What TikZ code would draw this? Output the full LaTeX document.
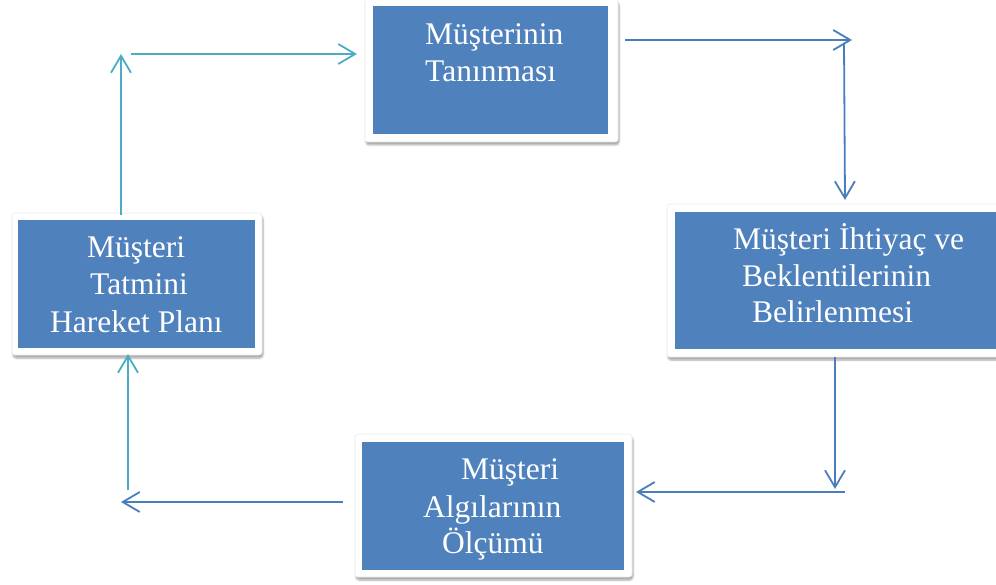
\documentclass[tikz,border=0pt]{standalone}
\usepackage{fontspec}
\setmainfont{Liberation Serif}
\usetikzlibrary{arrows.meta,shadows.blur}
\definecolor{boxblue}{HTML}{4F81BD}
\definecolor{lineblue}{HTML}{4A7EBB}
\definecolor{linecyan}{HTML}{4BACC6}
\tikzset{
  frame/.style={rectangle, fill=white, draw=black!8, line width=0.6pt, rounded corners=3pt,
    inner sep=0pt, outer sep=0pt,
    blur shadow={shadow xshift=1pt, shadow yshift=-3pt, shadow blur steps=6, shadow opacity=35}},
  panel/.style={rectangle, fill=boxblue, inner sep=0pt, outer sep=0pt},
  boxtext/.style={text=white, font=\fontsize{31.5}{37}\selectfont, anchor=base west, inner sep=0pt},
  flow/.style={line width=1.8pt, -{Straight Barb[length=17pt,width=20pt,line width=1.8pt]}},
}
\begin{document}
\begin{tikzpicture}[x=1pt,y=-1pt]
\useasboundingbox (0,0) rectangle (996,585);
\clip (0,0) rectangle (996,585);

% white frames with soft shadows
\node[frame, minimum width=253pt, minimum height=143pt] (f1) at (491.5,70.5) {};
\node[frame, minimum width=339pt, minimum height=153pt] (f2) at (836.5,280.5) {};
\node[frame, minimum width=250pt, minimum height=142pt] (f3) at (137,284) {};
\node[frame, minimum width=277pt, minimum height=143pt] (f4) at (493.5,505.5) {};

% blue panels
\node[panel, minimum width=235pt, minimum height=128pt] (tanima) at (490.5,70) {};
\node[panel, minimum width=323pt, minimum height=137pt] (ihtiyac) at (836.5,280.5) {};
\node[panel, minimum width=237pt, minimum height=128pt] (tatmin) at (136.5,284) {};
\node[panel, minimum width=262pt, minimum height=128pt] (olcum) at (493,506) {};

% texts
\node[boxtext] (t1a) at (425,45) {Müşterinin};
\node[boxtext] (t1b) at (425,82) {Tanınması};
\node[boxtext] (t2a) at (733,250) {Müşteri İhtiyaç ve};
\node[boxtext] (t2b) at (742,287) {Beklentilerinin};
\node[boxtext] (t2c) at (752,323) {Belirlenmesi};
\node[boxtext] (t3a) at (87,258) {Müşteri};
\node[boxtext] (t3b) at (90,295) {Tatmini};
\node[boxtext] (t3c) at (50,333) {Hareket Planı};
\node[boxtext] (t4a) at (461,479) {Müşteri};
\node[boxtext] (t4b) at (423,517) {Algılarının};
\node[boxtext] (t4c) at (442,553) {Ölçümü};

% connector end points
\coordinate (a1s) at (625,40);
\coordinate (a1e) at (852,40);
\coordinate (a2s) at (844,43);
\coordinate (a2e) at (845,200);
\coordinate (a3s) at (835,357);
\coordinate (a3e) at (835,489);
\coordinate (a4s) at (845,492);
\coordinate (a4e) at (636,492);
\coordinate (a5s) at (343,502);
\coordinate (a5e) at (121,502);
\coordinate (a6s) at (128,490);
\coordinate (a6e) at (128,354);
\coordinate (a7s) at (121,215);
\coordinate (a7e) at (121,54);
\coordinate (a8s) at (131,54);
\coordinate (a8e) at (357,54);

% connectors
\draw[flow, lineblue] (a1s) -- (a1e);
\draw[flow, lineblue] (a2s) -- (a2e);
\draw[flow, lineblue] (a3s) -- (a3e);
\draw[flow, lineblue] (a4s) -- (a4e);
\draw[flow, lineblue] (a5s) -- (a5e);
\draw[flow, linecyan] (a6s) -- (a6e);
\draw[flow, linecyan] (a7s) -- (a7e);
\draw[flow, linecyan] (a8s) -- (a8e);
\end{tikzpicture}
\end{document}
